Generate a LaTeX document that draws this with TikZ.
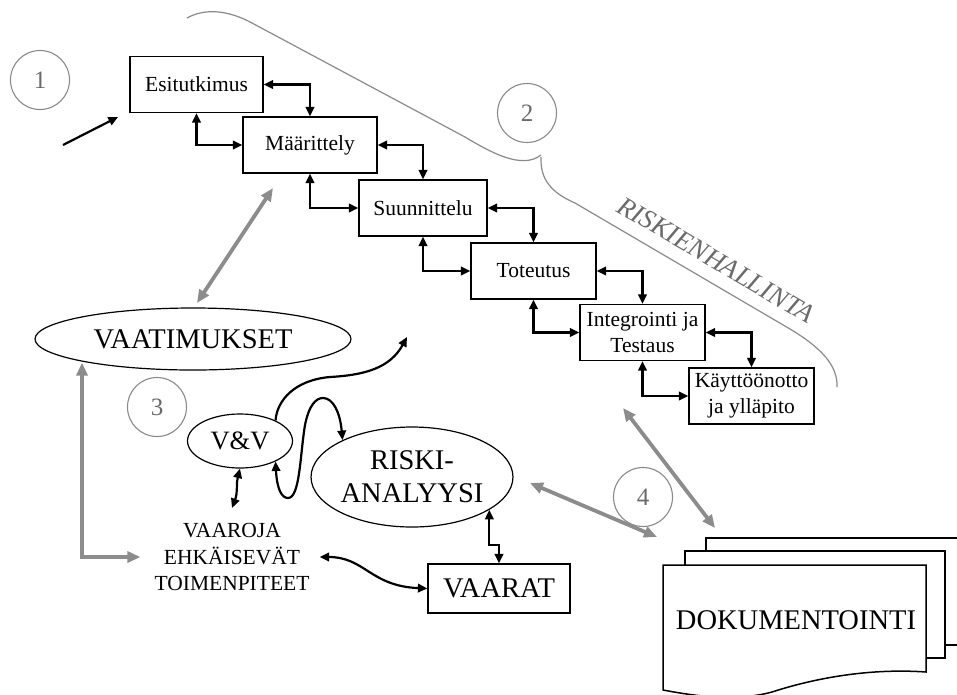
\documentclass[tikz,border=0pt]{standalone}
\usepackage{fontspec}
\setmainfont{Liberation Serif}
\usetikzlibrary{arrows.meta,shapes.geometric,calc}

\definecolor{linegray}{HTML}{8C8C8C}
\definecolor{bracegray}{HTML}{8A8A8A}
\definecolor{textgray}{HTML}{6A6A6A}

\tikzset{
  phase/.style={draw, line width=1.2pt, inner sep=2pt, align=center,
    minimum height=56pt, font=\fontsize{21.5}{26}\selectfont},
  bigtext/.style={font=\fontsize{28.5}{33}\selectfont, align=center},
  oval/.style={ellipse, draw, line width=1.2pt, inner sep=0pt},
  link/.style={line width=2.2pt, >={Triangle[length=9.5pt,width=8.5pt]}, <->},
  onelink/.style={line width=2.2pt, >={Triangle[length=9.5pt,width=8.5pt]}, ->},
  grayarrow/.style={draw=linegray, line width=3.8pt,
    >={Triangle[length=13pt,width=11pt]}, <->},
  numc/.style={circle, draw=bracegray, line width=1.1pt, minimum size=59pt,
    inner sep=0pt, text=textgray, font=\fontsize{25}{30}\selectfont},
  brace/.style={draw=bracegray, line width=1.2pt},
  page/.style={draw, line width=1.5pt, fill=white}
}

\begin{document}
\begin{tikzpicture}[x=1pt,y=-1pt]
\useasboundingbox (0,0) rectangle (957,694);

% numbered circles
\node[numc] (n1) at (40,80) {1};
\node[numc] (n2) at (527,113) {2};
\node[numc] (n3) at (157,407) {3};
\node[numc] (n4) at (643,497) {4};

% waterfall phases
\node[phase, minimum width=133pt] (esi) at (196.5,84.5) {Esitutkimus};
\node[phase, minimum width=134pt] (maa) at (310,145) {Määrittely};
\node[phase, minimum width=128pt] (suu) at (423,208) {Suunnittelu};
\node[phase, minimum width=125pt] (tot) at (533.5,271) {Toteutus};
\node[phase, minimum width=125pt] (int) at (642.5,332.5) {Integrointi ja\\Testaus};
\node[phase, minimum width=125pt] (kay) at (751.5,396) {Käyttöönotto\\ja ylläpito};

\foreach \a/\b in {esi/maa, maa/suu, suu/tot, tot/int, int/kay} {
  \draw[link] (\a.east) -| (\b.north);
  \draw[link] (\a.south) |- (\b.west);
}

% entry arrow
\coordinate (in0) at (63,145);
\coordinate (in1) at (118,117);
\draw[onelink] (in0) -- (in1);

% risk management brace
\draw[brace] (187,18) .. controls (205,8) and (228,10) .. (252,23)
  -- (465,137) .. controls (490,152) and (522,170) .. (541,155);
\draw[brace] (541,157) .. controls (540,180) and (552,193) .. (575,203)
  -- (790,329) .. controls (820,347) and (838,365) .. (837,387);
\node[text=textgray, font=\fontsize{27}{30}\selectfont\itshape, rotate=-30.5]
  (rh) at (716,260) {RISKIENHALLINTA};

% requirements and analysis
\node[oval, minimum width=316pt, minimum height=62pt, bigtext] (vaat) at (193,339) {VAATIMUKSET};
\node[oval, minimum width=105pt, minimum height=54pt, font=\fontsize{26.5}{30}\selectfont] (vv) at (240,441) {V\&V};
\node[oval, minimum width=200pt, minimum height=100pt, bigtext] (ris) at (412,477) {RISKI-\\ANALYYSI};
\node[draw, line width=1.2pt, minimum width=142pt, minimum height=49pt, inner sep=0pt, bigtext] (vaarat) at (499,588.5) {VAARAT};
\node[align=center, font=\fontsize{21.5}{26.5}\selectfont, inner sep=2pt] (vaaroja) at (232,557)
  {VAAROJA\\EHKÄISEVÄT\\TOIMENPITEET};

% documentation stack
\draw[page] (706,551) -- (706,538) -- (975,538) -- (975,645) -- (945,645);
\draw[page] (685,565) -- (685,551) -- (945,551) -- (945,658) -- (926,658);
\draw[page] (663,565) -- (926,565) -- (926,672)
  .. controls (870,668) and (815,678) .. (772,692)
  .. controls (735,702) and (695,696) .. (663,690) -- cycle;
\node[bigtext] (dok) at (796,620) {DOKUMENTOINTI};

% gray links
\coordinate (ga1) at (197,303);
\coordinate (ga2) at (273,188);
\draw[grayarrow] (ga1) -- (ga2);
\draw[grayarrow] ([xshift=-111pt,yshift=8pt]vaat.south) |- ([xshift=-12pt]vaaroja.west);
\coordinate (gb1) at (530,483);
\coordinate (gb2) at (657,537);
\draw[grayarrow] (gb1) -- (gb2);
\coordinate (gc1) at (623,408);
\coordinate (gc2) at (715,528);
\draw[grayarrow] (gc1) -- (gc2);

% black curved links
\coordinate (vvout) at (407,337);
\draw[onelink] (vv.30) .. controls (277,400) and (295,380) .. (330,377)
  .. controls (365,375) and (390,368) .. (vvout);
\draw[link] (vv.-30) .. controls (277,490) and (282,498) .. (288,498)
  .. controls (300,498) and (300,455) .. (305,425)
  .. controls (309,405) and (316,398) .. (323,398)
  .. controls (333,398) and (340,412) .. (ris.152);
\draw[link] (vv.south) .. controls (236,484) and (238,492) .. (232,508);
\draw[link] ([xshift=8pt]vaaroja.east) .. controls (365,557) and (370,586) .. (vaarat.west);
\draw[link] (ris.-23) -- ++(0,35) -| (vaarat.north);

\end{tikzpicture}
\end{document}
